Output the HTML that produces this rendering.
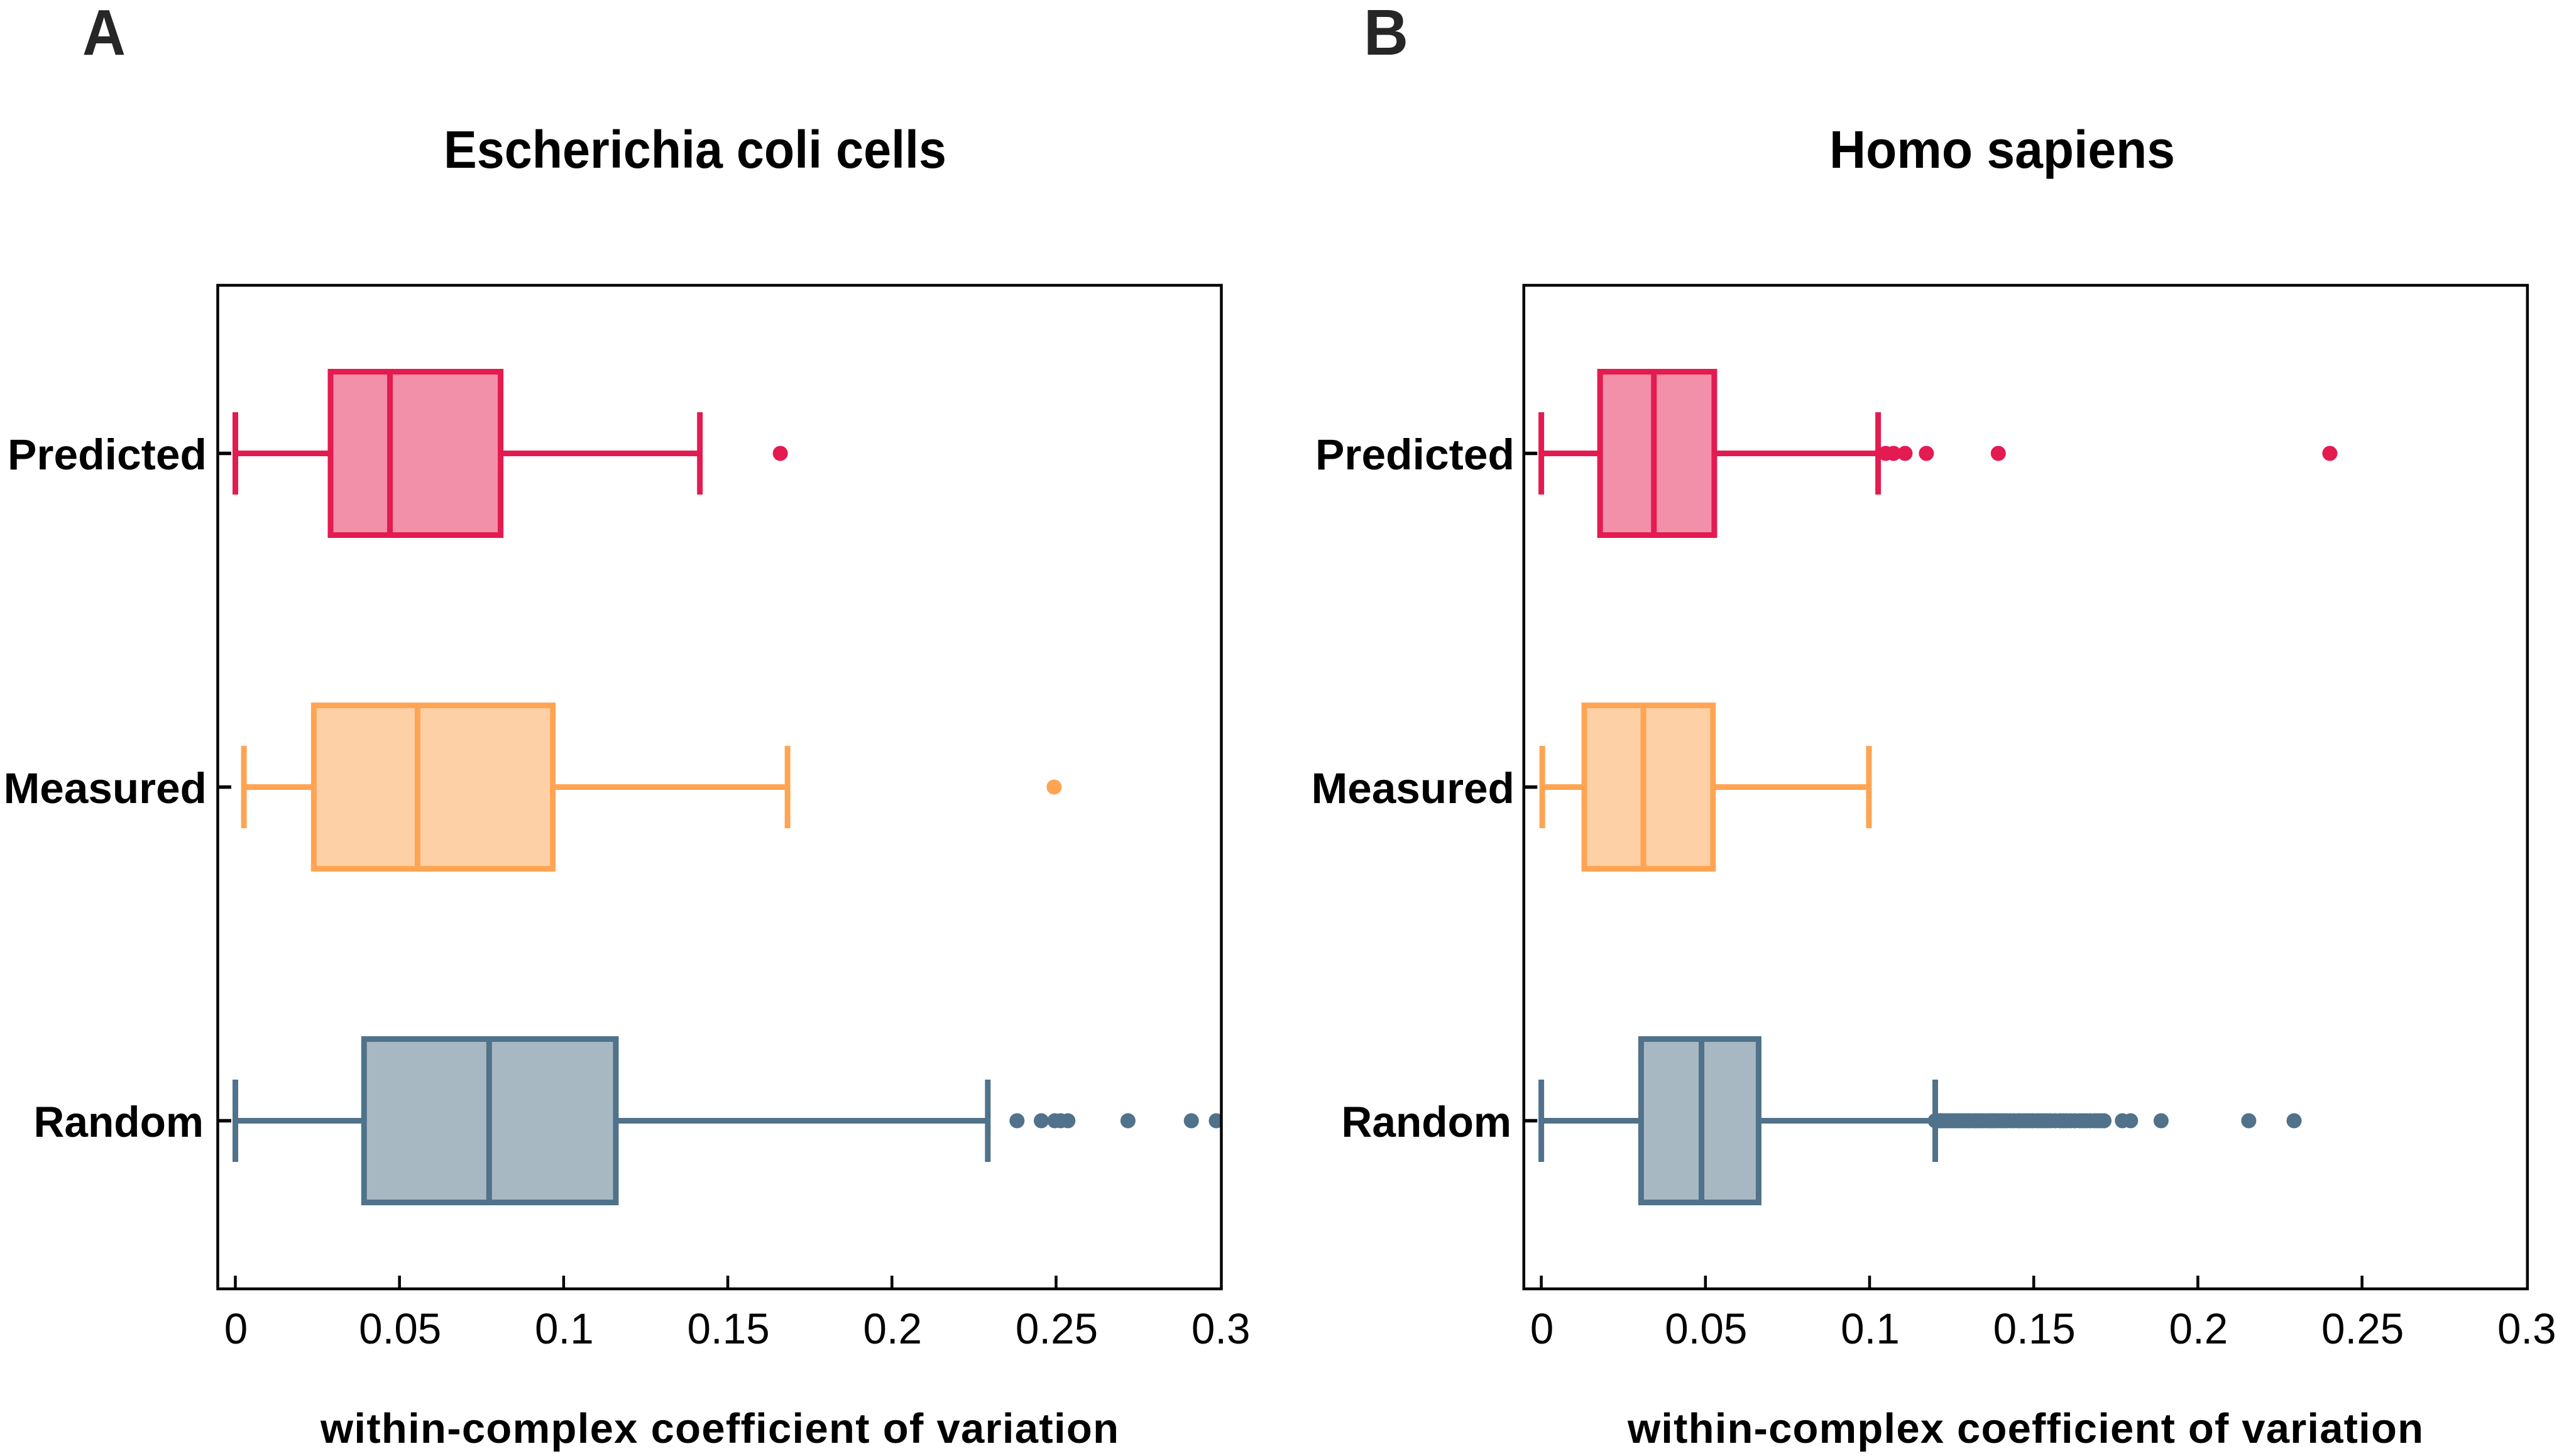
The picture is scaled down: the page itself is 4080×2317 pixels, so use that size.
<!DOCTYPE html>
<html lang="en">
<head>
<meta charset="utf-8">
<title>Within-complex coefficient of variation</title>
<style>
html,body{margin:0;padding:0;background:#fff;width:4080px;height:2317px;overflow:hidden}
svg{display:block}
text{font-family:"Liberation Sans",Arial,sans-serif;fill:#000}
.b{font-weight:700}
</style>
</head>
<body>
<svg id="figure" xmlns="http://www.w3.org/2000/svg" width="4080" height="2317" viewBox="0 0 4080 2317">
  <rect x="0" y="0" width="4080" height="2317" fill="#fff"/>
  <defs>
    <clipPath id="clip-a"><rect x="346" y="454" width="1596" height="1597"/></clipPath>
    <clipPath id="clip-b"><rect x="2424" y="454" width="1596" height="1597"/></clipPath>
  </defs>
  <text class="b" x="131" y="87" font-size="103" textLength="69" lengthAdjust="spacingAndGlyphs" style="fill:#262626">A</text>
  <text class="b" x="2170" y="87" font-size="103" textLength="71" lengthAdjust="spacingAndGlyphs" style="fill:#262626">B</text>
  <text class="b" x="1106" y="267" font-size="84" text-anchor="middle" textLength="800" lengthAdjust="spacingAndGlyphs">Escherichia coli cells</text>
  <text class="b" x="3186" y="267" font-size="84" text-anchor="middle" textLength="550" lengthAdjust="spacingAndGlyphs">Homo sapiens</text>
  <text class="b" x="1145" y="2296" font-size="67" text-anchor="middle" textLength="1270" lengthAdjust="spacing">within-complex coefficient of variation</text>
  <text class="b" x="3223" y="2296" font-size="67" text-anchor="middle" textLength="1266" lengthAdjust="spacing">within-complex coefficient of variation</text>
  <g id="panel-a"></g>
  <g id="panel-b"></g>
</svg>
<script>
// Chart data
const categories = ['Predicted', 'Measured', 'Random'];
const xTickValues = [0, 0.05, 0.1, 0.15, 0.2, 0.25, 0.3];
const xTickLabels = ['0', '0.05', '0.1', '0.15', '0.2', '0.25', '0.3'];

// Box statistics: [lower whisker, Q1, median, Q3, upper whisker]
const ecoliPredicted = [0, 0.029, 0.0471, 0.0808, 0.1415];
const ecoliMeasured = [0.0026, 0.0239, 0.0555, 0.0967, 0.1682];
const ecoliRandom = [0, 0.0392, 0.0773, 0.1159, 0.2292];
const humanPredicted = [0, 0.0179, 0.0343, 0.0527, 0.1026];
const humanMeasured = [0.0003, 0.0131, 0.0311, 0.0523, 0.0998];
const humanRandom = [0, 0.0304, 0.0488, 0.0662, 0.12];

// Outliers
const ecoliPredictedOutliers = [0.166];
const ecoliMeasuredOutliers = [0.2494];
const ecoliRandomOutliers = [0.2381, 0.2455, 0.2496, 0.2514, 0.2536, 0.2719, 0.2912, 0.2988];
const humanPredictedOutliers = [0.1049, 0.1073, 0.1108, 0.1173, 0.1392, 0.2402];
const humanMeasuredOutliers = [];
const humanRandomOutliers = [0.1200, 0.1208, 0.1215, 0.1222, 0.1230, 0.1238, 0.1245, 0.1252, 0.1260, 0.1268,
  0.1275, 0.1283, 0.1290, 0.1298, 0.1305, 0.1315, 0.1322, 0.1330, 0.1338, 0.1345, 0.1355, 0.1365, 0.1372,
  0.1380, 0.1390, 0.1400, 0.1410, 0.1418, 0.1430, 0.1440, 0.1452, 0.1460, 0.1470, 0.1480, 0.1490, 0.1498,
  0.1510, 0.1520, 0.1530, 0.1540, 0.1550, 0.1565, 0.1580, 0.1590, 0.1600, 0.1612, 0.1625, 0.1640, 0.1650,
  0.1660, 0.1672, 0.1685, 0.1695, 0.1705, 0.1714, 0.177, 0.1795, 0.1888, 0.2155, 0.2293];

const ecoliStats = [ecoliPredicted, ecoliMeasured, ecoliRandom];
const humanStats = [humanPredicted, humanMeasured, humanRandom];
const ecoliOutliers = [ecoliPredictedOutliers, ecoliMeasuredOutliers, ecoliRandomOutliers];
const humanOutliers = [humanPredictedOutliers, humanMeasuredOutliers, humanRandomOutliers];

const strokeColors = ['#e31b50', '#ffa453', '#50728a'];
const fillColors = ['#f28fa9', '#fed0a6', '#a8b8c3'];

const NS = 'http://www.w3.org/2000/svg';
const plotTop = 454, plotBottom = 2051, plotWidth = 1597;
const yCenterFirst = 721.5, yCenterLast = 1783.5;
const boxHalf = 130, capHalf = 65.5, pxPerUnit = 5224;
const markStroke = 9;

function make(parent, tag, attrs) {
  const el = document.createElementNS(NS, tag);
  for (const k in attrs) el.setAttribute(k, attrs[k]);
  parent.appendChild(el);
  return el;
}

// Glyphs in the reference are slightly narrower than their height suggests.
function squeeze(el, factor) {
  el.setAttribute('textLength', el.getComputedTextLength() * factor);
  el.setAttribute('lengthAdjust', 'spacingAndGlyphs');
}

function labelFactor(cat) {
  if (cat === 'Predicted') return 1.008;
  if (cat === 'Measured') return 1.004;
  return 0.98;
}

function drawPanel(root, prefix, originX, spineX, clipId, stats, outliers, labelRight) {
  const xScale = v => originX + v * pxPerUnit;
  const yScale = i => yCenterFirst + i * (yCenterLast - yCenterFirst) / (categories.length - 1);

  categories.forEach((cat, i) => {
    const y = yScale(i);
    const s = stats[i];
    const key = prefix + '-' + cat.toLowerCase();
    const stroke = strokeColors[i], fill = fillColors[i];

    const tick = make(root, 'line', {x1: spineX, x2: spineX + 21.5, y1: y, y2: y, stroke: '#000', 'stroke-width': 5.5});
    
    

    const label = make(root, 'text', {x: labelRight - (cat === 'Random' ? 5 : 0), y: y + 25.5, 'font-size': 69, 'font-weight': 700, 'text-anchor': 'end'});
    label.textContent = cat;
    
    
    squeeze(label, labelFactor(cat));

    const g = make(root, 'g', {});
    
    

    const wLow = make(g, 'line', {x1: xScale(s[0]), x2: xScale(s[1]), y1: y, y2: y, stroke: stroke, 'stroke-width': markStroke});
    
    

    const wHigh = make(g, 'line', {x1: xScale(s[3]), x2: xScale(s[4]), y1: y, y2: y, stroke: stroke, 'stroke-width': markStroke});
    
    

    const capLow = make(g, 'line', {x1: xScale(s[0]), x2: xScale(s[0]), y1: y - capHalf, y2: y + capHalf, stroke: stroke, 'stroke-width': markStroke});
    
    

    const capHigh = make(g, 'line', {x1: xScale(s[4]), x2: xScale(s[4]), y1: y - capHalf, y2: y + capHalf, stroke: stroke, 'stroke-width': markStroke});
    
    

    const box = make(g, 'rect', {x: xScale(s[1]), y: y - boxHalf, width: xScale(s[3]) - xScale(s[1]), height: 2 * boxHalf, fill: fill, stroke: stroke, 'stroke-width': markStroke});
    
    

    const median = make(g, 'line', {x1: xScale(s[2]), x2: xScale(s[2]), y1: y - boxHalf, y2: y + boxHalf, stroke: stroke, 'stroke-width': markStroke});
    
    

    const og = make(g, 'g', {'clip-path': 'url(#' + clipId + ')'});
    
    
    outliers[i].forEach(v => {
      const c = make(og, 'circle', {cx: xScale(v), cy: y, r: 12, fill: stroke});
      
      
    });
  });

  xTickValues.forEach((v, i) => {
    const x = xScale(v);
    if (i < xTickValues.length - 1) {
      const t = make(root, 'line', {x1: x, x2: x, y1: plotBottom - 21, y2: plotBottom, stroke: '#000', 'stroke-width': 4.5});
      
      
    }
    const lab = make(root, 'text', {x: x + 1, y: 2138, 'font-size': 69, 'text-anchor': 'middle'});
    lab.textContent = xTickLabels[i];
    
    
    squeeze(lab, 0.977);
  });

  const frame = make(root, 'rect', {x: spineX, y: plotTop, width: plotWidth, height: plotBottom - plotTop, fill: 'none', stroke: '#000', 'stroke-width': 4.5});
  
  
}

drawPanel(document.getElementById('panel-a'), 'ecoli', 374.5, 346.5, 'clip-a', ecoliStats, ecoliOutliers, 329);
drawPanel(document.getElementById('panel-b'), 'human', 2452.6, 2424.8, 'clip-b', humanStats, humanOutliers, 2410);
</script>
</body>
</html>
